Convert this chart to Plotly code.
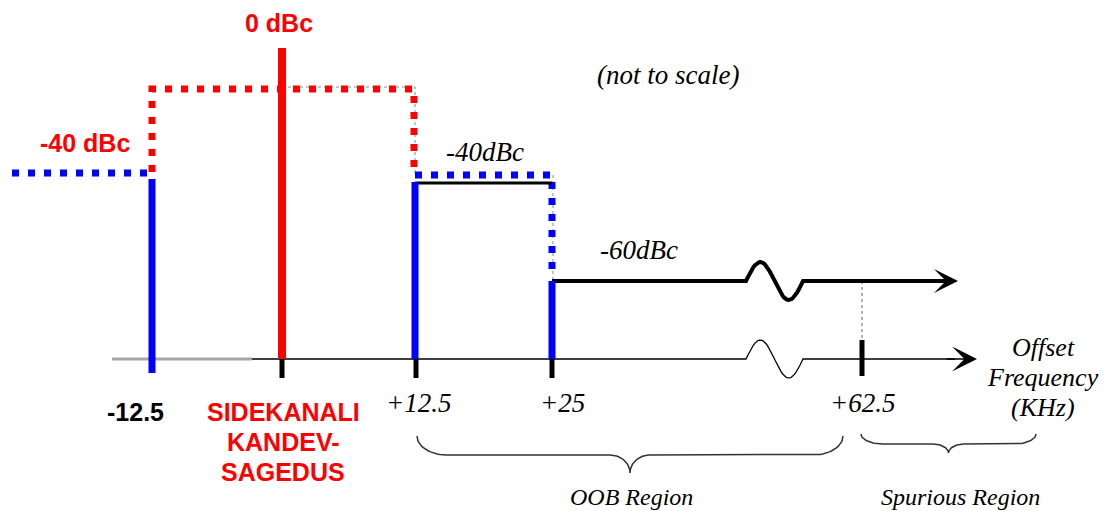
import numpy as np
import plotly.graph_objects as go

# frequency offsets (kHz) marked on the axis and their labels
offsets = [-12.5, 0, 12.5, 25, 62.5]
tick_labels = ["-12.5", "SIDEKANALI<br>KANDEV-<br>SAGEDUS", "+12.5", "+25", "+62.5"]

# emission levels (dBc)
carrier_dbc = 0
adjacent_dbc = -40
oob_dbc = -60
level_labels = ["0 dBc", "-40 dBc", "-40dBc", "-60dBc"]

region_labels = ["OOB Region", "Spurious Region"]

# the sketch is "not to scale": where each offset / level sits on the page
X_AT = {-12.5: 152, 0: 282, 12.5: 415, 25: 552, 62.5: 862}
Y_AT = {0: 48, "mask": 89, "adj_mask": 175, -40: 183, -60: 281, "axis": 359}

RED = "#ff0000"
BLUE = "#0000ff"
SERIF = "Liberation Serif"
SANS = "Liberation Sans"
DOTS = "7px,9px"
PAGE_MARGIN = 8  # default body margin of the html page

fig = go.Figure()


def seg(xs, ys, color, width, dash=None):
    fig.add_trace(go.Scatter(x=xs, y=ys, mode="lines", hoverinfo="skip",
                             line=dict(color=color, width=width, dash=dash)))


def with_break(x0, x1, y, amp, xb=746, wb=57):
    # straight line with the "axis break" wiggle in it
    t = np.linspace(0, 1, 40)
    wx = xb + wb * t
    wy = y - amp * np.sin(2 * np.pi * t)
    return [x0] + list(wx) + [x1], [y] + list(wy) + [y]


def brace(x0, x1, ytop, yh, ytip, r, r2):
    xm = (x0 + x1) / 2
    t = np.linspace(0, np.pi / 2, 20)
    xs, ys = [], []
    xs += list(x0 + r * (1 - np.cos(t))); ys += list(ytop + (yh - ytop) * np.sin(t))
    xs += list(xm - r2 + r2 * np.sin(t)); ys += list(yh + (ytip - yh) * (1 - np.cos(t)))
    xs += list(xm + r2 - r2 * np.sin(t[::-1])); ys += list(yh + (ytip - yh) * (1 - np.cos(t[::-1])))
    xs += list(x1 - r * (1 - np.cos(t[::-1]))); ys += list(ytop + (yh - ytop) * np.sin(t[::-1]))
    return xs, ys


ya = Y_AT["axis"]
xl, xc, xr1, xr2, xs = (X_AT[o] for o in offsets)

# thin grey guide lines behind the masks
seg([xc, xr1, xr1], [Y_AT["mask"] - 2] * 2 + [Y_AT["adj_mask"]], "#888888", 1, "dot")
seg([xr2 + 1, xr2 + 1], [Y_AT["adj_mask"], Y_AT[oob_dbc]], "#888888", 1, "dot")
seg([xs, xs], [Y_AT[oob_dbc], ya - 19], "#666666", 1, "dot")

# frequency axis
seg([112, 252], [ya, ya], "#a6a6a6", 3)
bx, by = with_break(252, 955, ya, 19)
seg(bx, by, "black", 1.3)

# channel masks (dotted)
seg([xl, xl, xr1 - 1, xr1 - 1], [Y_AT[adjacent_dbc] - 11, Y_AT["mask"], Y_AT["mask"], Y_AT["adj_mask"] + 1], RED, 7, DOTS)
seg([12, xl - 2], [Y_AT["adj_mask"] - 2] * 2, BLUE, 7, DOTS)
seg([xr1, xr2, xr2], [Y_AT["adj_mask"]] * 2 + [Y_AT[oob_dbc] - 4], BLUE, 7, DOTS)

# limit lines
seg([xr1, xr2], [Y_AT[adjacent_dbc]] * 2, "black", 3)
lx, ly = with_break(xr2, 935, Y_AT[oob_dbc], 19)
seg(lx, ly, "black", 4)

# carrier and adjacent channel edges
seg([xc, xc], [Y_AT[carrier_dbc], ya], RED, 8)
seg([xl, xl], [Y_AT["adj_mask"] + 4, ya + 14], BLUE, 7)
seg([xr1, xr1], [Y_AT[adjacent_dbc] - 1, ya], BLUE, 7)
seg([xr2, xr2], [Y_AT[oob_dbc], ya], BLUE, 7)

# tick marks
for x in (xc, xr1 + 1, xr2):
    seg([x, x], [ya, ya + 19], "black", 5)
seg([xs, xs], [ya - 19, ya + 17], "black", 5)

# region braces
ox, oy = brace(417, 843, 436, 455, 473, 30, 20)
seg(ox, oy, "#333333", 1.5)
sx, sy = brace(861, 1036, 434, 444, 453, 22, 16)
seg(sx, sy, "#333333", 1.5)

ann = []


def text(x, y, s, size, color="black", font=SERIF, italic=True, bold=False):
    ann.append(dict(x=x, y=y, xref="x", yref="y", text=s, showarrow=False,
                    xanchor="center", yanchor="middle",
                    font=dict(family=font, size=size, color=color,
                              style="italic" if italic else "normal",
                              weight="bold" if bold else "normal")))


# arrow heads
ann.append(dict(x=958, y=Y_AT[oob_dbc], ax=930, ay=Y_AT[oob_dbc], xref="x", yref="y",
                axref="x", ayref="y", text="", showarrow=True, arrowhead=3,
                arrowwidth=4, arrowsize=1, arrowcolor="black", standoff=0))
ann.append(dict(x=977, y=ya, ax=945, ay=ya, xref="x", yref="y",
                axref="x", ayref="y", text="", showarrow=True, arrowhead=3,
                arrowwidth=1.3, arrowsize=3.2, arrowcolor="black", standoff=0))

text(279, 23, level_labels[0], 25, RED, SANS, False, True)
text(85, 143, level_labels[1], 25, RED, SANS, False, True)
text(485, 152, level_labels[2], 27)
text(639, 250, level_labels[3], 27)
text(668, 75, "(not to scale)", 27)

text(135, 412, tick_labels[0], 25, "black", SANS, False, True)
for i, line in enumerate(tick_labels[1].split("<br>")):
    text(283, 412 + 30 * i, line, 25, RED, SANS, False, True)
text(418, 403, tick_labels[2], 27)
text(562, 403, tick_labels[3], 27)
text(862, 403, tick_labels[4], 27)

for i, line in enumerate(["Offset", "Frequency", "(KHz)"]):
    text(1043, 347 + 30 * i, line, 26)

text(631, 497, region_labels[0], 24)
text(960, 497, region_labels[1], 24)

fig.update_layout(
    width=1107 - PAGE_MARGIN, height=511 - PAGE_MARGIN,
    margin=dict(l=0, r=0, t=0, b=0),
    paper_bgcolor="white", plot_bgcolor="white",
    showlegend=False,
    xaxis=dict(range=[PAGE_MARGIN, 1107], visible=False, fixedrange=True),
    yaxis=dict(range=[511, PAGE_MARGIN], visible=False, fixedrange=True),
    annotations=ann,
)

fig.write_html("out.html")
